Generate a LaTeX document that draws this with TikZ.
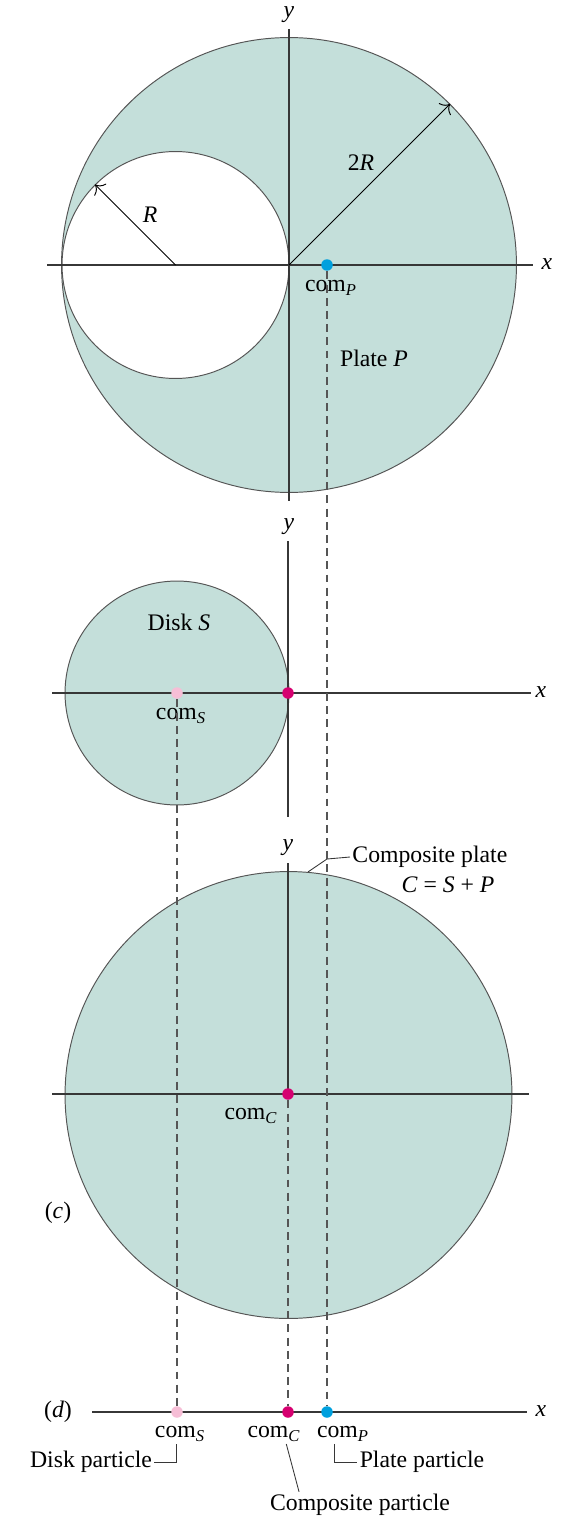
\documentclass[tikz,border=0pt]{standalone}
\usepackage{fontspec}
\setmainfont{Liberation Serif}
\usetikzlibrary{arrows.meta,calc}

\definecolor{platefill}{RGB}{196,223,218}
\definecolor{rimgray}{RGB}{85,85,85}
\definecolor{axisgray}{RGB}{55,55,55}
\definecolor{comblue}{RGB}{0,160,222}
\definecolor{commag}{RGB}{214,0,112}
\definecolor{compink}{RGB}{246,190,214}

\newcommand{\lblfont}{\fontsize{13.5pt}{16pt}\selectfont}
\newcommand{\sub}[1]{\textsubscript{\textit{#1}}}

\tikzset{
  plate/.style={circle,draw=rimgray,fill=platefill,line width=0.55pt,inner sep=0pt},
  axis/.style={draw=axisgray,line width=0.8pt},
  proj/.style={draw=axisgray!85,line width=0.8pt,dash pattern=on 4.5pt off 3pt},
  dot/.style={circle,inner sep=0pt,minimum size=0.23cm},
  leader/.style={draw=axisgray,line width=0.5pt},
  lbl/.style={font=\lblfont,inner sep=1pt}
}

\begin{document}
\begin{tikzpicture}[x=0.02cm,y=-0.02cm,line width=0.8pt]
  \useasboundingbox (0,0) rectangle (564,1517);
  % (a) plate P with the hole cut out
  \node[plate,minimum size=9.1cm] (plateP) at (289,265) {};
  \node[plate,fill=white,minimum size=4.54cm] (hole) at (175.5,265) {};
  \draw[axis] (47,265) -- (533,265);
  \draw[axis] (289,29) -- (289,501);
  \node[lbl] (xa) at (547,264) {\textit{x}};
  \node[lbl] (ya) at (289,15) {\textit{y}};
  \draw[line width=0.55pt,-{To[length=1.6mm]}] (plateP.center) -- (plateP.45);
  \draw[line width=0.55pt,-{To[length=1.6mm]}] (hole.center) -- (hole.135);
  \node[lbl] (twoR) at (361,163) {2\textit{R}};
  \node[lbl] (oneR) at (150,215) {\textit{R}};
  \node[dot,fill=comblue] (dPa) at (327,265) {};
  \node[lbl] (comPa) at (331,288) {com\sub{P}};
  \node[lbl] (plateLbl) at (374,358) {Plate \textit{P}};

  % (b) disk S
  \node[plate,minimum size=4.48cm] (diskS) at (177,693) {};
  \draw[axis] (52,693) -- (531,693);
  \draw[axis] (288,541) -- (288,817);
  \node[lbl] (xb) at (541,692) {\textit{x}};
  \node[lbl] (yb) at (289,527) {\textit{y}};
  \node[dot,fill=compink] (dSb) at (177,693) {};
  \node[dot,fill=commag] (dCb) at (288,693) {};
  \node[lbl] (diskLbl) at (179,622) {Disk \textit{S}};
  \node[lbl] (comSb) at (181,716) {com\sub{S}};

  % (c) composite plate
  \node[plate,minimum size=8.94cm] (plateC) at (288.5,1095) {};
  \draw[axis] (52,1094) -- (529,1094);
  \draw[axis] (288,863) -- (288,1094);
  \node[lbl] (yc) at (288,848) {\textit{y}};
  \node[dot,fill=commag] (dCc) at (288,1094) {};
  \node[lbl] (comCc) at (251,1116) {com\sub{C}};
  \node[lbl,anchor=west] (compLbl) at (350,857) {Composite plate};
  \node[lbl] (sumLbl) at (448,885) {\textit{C} = \textit{S} + \textit{P}};
  \coordinate (kink) at (327,859);
  \draw[leader] (plateC.85) -- (kink) -- (compLbl.west);
  \node[lbl] (tagc) at (58,1213) {(\textit{c})};

  % (d) the three particles on the x axis
  \draw[axis] (92,1412) -- (527,1412);
  \node[lbl] (xd) at (541,1411) {\textit{x}};
  \node[lbl] (tagd) at (58,1412) {(\textit{d})};
  \node[dot,fill=compink] (dSd) at (177,1412) {};
  \node[dot,fill=commag] (dCd) at (288,1412) {};
  \node[dot,fill=comblue] (dPd) at (327,1412) {};
  \node[lbl] (comSd) at (180,1434) {com\sub{S}};
  \node[lbl] (comCd) at (274,1434) {com\sub{C}};
  \node[lbl] (comPd) at (343,1434) {com\sub{P}};
  \node[lbl] (diskPart) at (91,1462) {Disk particle};
  \node[lbl] (platePart) at (422,1462) {Plate particle};
  \node[lbl] (compPart) at (360,1505) {Composite particle};
  \draw[leader] (diskPart.east) -| ([xshift=-2pt]comSd.south);
  \draw[leader] ([xshift=-5pt]comPd.south) |- (platePart.west);
  \draw[leader] ([xshift=7pt]comCd.south) -- ($(compPart.north west)!0.17!(compPart.north east)$);

  % projection lines
  \draw[proj] (dPa) -- (dPd);
  \draw[proj] (dSb) -- (dSd);
  \draw[proj] (dCc) -- (dCd);
\end{tikzpicture}
\end{document}
